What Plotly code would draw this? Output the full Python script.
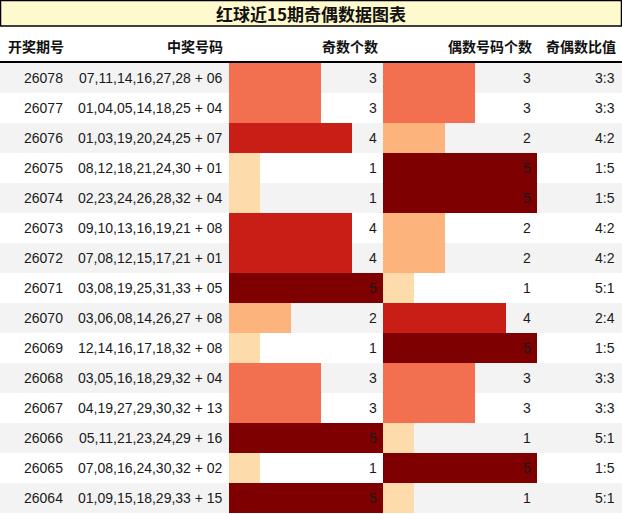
import plotly.graph_objects as go

periods = ["26078", "26077", "26076", "26075", "26074", "26073", "26072", "26071",
           "26070", "26069", "26068", "26067", "26066", "26065", "26064"]
numbers = ["07,11,14,16,27,28 + 06", "01,04,05,14,18,25 + 04", "01,03,19,20,24,25 + 07",
           "08,12,18,21,24,30 + 01", "02,23,24,26,28,32 + 04", "09,10,13,16,19,21 + 08",
           "07,08,12,15,17,21 + 01", "03,08,19,25,31,33 + 05", "03,06,08,14,26,27 + 08",
           "12,14,16,17,18,32 + 08", "03,05,16,18,29,32 + 04", "04,19,27,29,30,32 + 13",
           "05,11,21,23,24,29 + 16", "07,08,16,24,30,32 + 02", "01,09,15,18,29,33 + 15"]
odd_counts = [3, 3, 4, 1, 1, 4, 4, 5, 2, 1, 3, 3, 5, 1, 5]
even_counts = [3, 3, 2, 5, 5, 2, 2, 1, 4, 5, 3, 3, 1, 5, 1]
ratios = ["3:3", "3:3", "4:2", "1:5", "1:5", "4:2", "4:2", "5:1", "2:4", "1:5",
          "3:3", "3:3", "5:1", "1:5", "5:1"]
headers = ["开奖期号", "中奖号码", "奇数个数", "偶数号码个数", "奇偶数比值"]
title = "红球近15期奇偶数据图表"

W, H = 622, 514
color_map = {1: "#FDDBAA", 2: "#FCB47C", 3: "#F26F4F", 4: "#C81E16", 5: "#7F0000"}
FONT = "Liberation Sans, Arial, Noto Sans CJK SC, sans-serif"
CJK = "Noto Sans CJK SC, Liberation Sans, sans-serif"
TXT = "#1a1a1a"

rows = list(range(len(periods)))
row_top_px, row_bot_px = 63, 513
ydom = [1 - row_bot_px / H, 1 - row_top_px / H]

fig = go.Figure()
# zebra background
fig.add_trace(go.Bar(x=[W] * len(rows), y=rows, orientation="h", width=1,
                     marker=dict(color=["#F3F3F3" if i % 2 == 0 else "#FFFFFF" for i in rows],
                                 line=dict(width=0)),
                     xaxis="x", yaxis="y", hoverinfo="skip", showlegend=False))
fig.add_trace(go.Bar(x=odd_counts, y=rows, orientation="h", width=1,
                     marker=dict(color=[color_map[v] for v in odd_counts], line=dict(width=0)),
                     xaxis="x2", yaxis="y", hoverinfo="skip", showlegend=False))
fig.add_trace(go.Bar(x=even_counts, y=rows, orientation="h", width=1,
                     marker=dict(color=[color_map[v] for v in even_counts], line=dict(width=0)),
                     xaxis="x3", yaxis="y", hoverinfo="skip", showlegend=False))

ann = []
for i in rows:
    ann.append(dict(xref="x", yref="y", x=65, y=i, text=periods[i], xanchor="right",
                    showarrow=False, font=dict(family=FONT, size=14, color=TXT)))
    ann.append(dict(xref="x", yref="y", x=224.5, y=i, text=numbers[i], xanchor="right",
                    showarrow=False, font=dict(family=FONT, size=14, color=TXT)))
    ann.append(dict(xref="x2", yref="y", x=5, y=i, text=str(odd_counts[i]), xanchor="right",
                    xshift=-4.5, showarrow=False, font=dict(family=FONT, size=14, color=TXT)))
    ann.append(dict(xref="x3", yref="y", x=5, y=i, text=str(even_counts[i]), xanchor="right",
                    xshift=-4.5, showarrow=False, font=dict(family=FONT, size=14, color=TXT)))
    ann.append(dict(xref="x", yref="y", x=616.5, y=i, text=ratios[i], xanchor="right",
                    showarrow=False, font=dict(family=FONT, size=14, color=TXT)))

header_x = [66, 225, 380, 534, 618]
for hx, htxt in zip(header_x, headers):
    ann.append(dict(xref="x", yref="paper", x=hx, y=1 - 46 / H, text="<b>%s</b>" % htxt,
                    xanchor="right", yanchor="middle", showarrow=False,
                    font=dict(family=CJK, size=14, color="#111111")))
ann.append(dict(xref="paper", yref="paper", x=0.5, y=1 - 13 / H, text="<b>%s</b>" % title,
                xanchor="center", yanchor="middle", showarrow=False,
                font=dict(family=CJK, size=17, color="#111111")))

shapes = [
    dict(type="rect", xref="paper", yref="paper", x0=0.5 / W, x1=1 - 0.5 / W,
         y0=1 - 26 / H, y1=1 - 0.5 / H, fillcolor="#FFFACD",
         line=dict(color="#000000", width=1.5), layer="below"),
    dict(type="line", xref="paper", yref="paper", x0=0, x1=1,
         y0=1 - 62 / H, y1=1 - 62 / H, line=dict(color="#000000", width=2)),
]

fig.update_layout(
    width=W, height=H, margin=dict(l=0, r=0, t=0, b=0),
    paper_bgcolor="white", plot_bgcolor="rgba(0,0,0,0)",
    barmode="overlay", bargap=0,
    xaxis=dict(domain=[0, 1], range=[0, W], visible=False, fixedrange=True),
    xaxis2=dict(domain=[229 / W, 383 / W], range=[0, 5], visible=False, anchor="y", fixedrange=True),
    xaxis3=dict(domain=[383 / W, 537 / W], range=[0, 5], visible=False, anchor="y", fixedrange=True),
    yaxis=dict(domain=ydom, range=[len(rows) - 0.5, -0.5], visible=False, fixedrange=True),
    annotations=ann, shapes=shapes, showlegend=False,
)

fig.write_html("out.html")
